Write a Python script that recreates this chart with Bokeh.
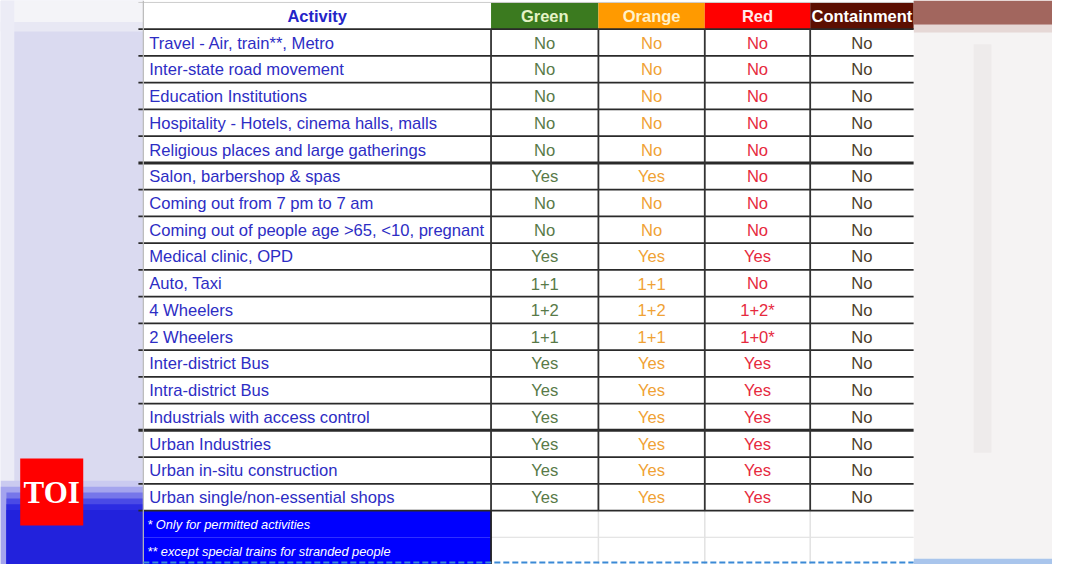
from bokeh.plotting import figure
from bokeh.models import Range1d
from bokeh.core.properties import value
from bokeh.embed import file_html
from bokeh.resources import INLINE

# ---------------- data ----------------
activities = [
    "Travel - Air, train**, Metro",
    "Inter-state road movement",
    "Education Institutions",
    "Hospitality - Hotels, cinema halls, malls",
    "Religious places and large gatherings",
    "Salon, barbershop & spas",
    "Coming out from 7 pm to 7 am",
    "Coming out of people age >65, <10, pregnant",
    "Medical clinic, OPD",
    "Auto, Taxi",
    "4 Wheelers",
    "2 Wheelers",
    "Inter-district Bus",
    "Intra-district Bus",
    "Industrials with access control",
    "Urban Industries",
    "Urban in-situ construction",
    "Urban single/non-essential shops",
]
zones = ["Green", "Orange", "Red", "Containment"]
green = ["No", "No", "No", "No", "No", "Yes", "No", "No", "Yes", "1+1", "1+2", "1+1",
         "Yes", "Yes", "Yes", "Yes", "Yes", "Yes"]
orange = ["No", "No", "No", "No", "No", "Yes", "No", "No", "Yes", "1+1", "1+2", "1+1",
          "Yes", "Yes", "Yes", "Yes", "Yes", "Yes"]
red = ["No", "No", "No", "No", "No", "No", "No", "No", "Yes", "No", "1+2*", "1+0*",
       "Yes", "Yes", "Yes", "Yes", "Yes", "Yes"]
containment = ["No", "No", "No", "No", "No", "No", "No", "No", "No", "No", "No", "No",
               "No", "No", "No", "No", "No", "No"]
footnotes = ["* Only for permitted activities", "** except special trains for stranded people"]
group_breaks = [5, 15]  # thick line after these rows

# ---------------- layout / style ----------------
col_edges = [145, 498, 607, 715, 822, 927]
header_top, header_bottom, row_h = 2, 29.5, 27.5
header_bg = ["#3b7a1f", "#ff9a00", "#ff0000", "#5c0f02"]
header_fg = ["#e6f3c6", "#fff1c8", "#ffeaea", "#ffffff"]
value_fg = ["#587a48", "#f0a235", "#e62a3e", "#4a3d2a"]
act_color = "#2d2dc4"
FONT = value("Liberation Sans")

W, H = 1052, 564
p = figure(width=W, height=H, output_backend="svg", toolbar_location=None,
           x_range=Range1d(0, 1068), y_range=Range1d(580, 0),
           min_border=0, background_fill_color="#ffffff", border_fill_color="#ffffff",
           outline_line_color=None)
p.axis.visible = False
p.grid.visible = False

# ---------------- blurred background ----------------
# left side
p.quad(left=[0], right=[145], top=[0], bottom=[580], fill_color="#dadaf0", line_color=None)
p.quad(left=[0], right=[145], top=[0], bottom=[22], fill_color="#f4f4f8", line_color=None)
p.quad(left=[0], right=[145], top=[22], bottom=[32], fill_color="#e8e8f4", line_color=None)
p.quad(left=[0], right=[14], top=[0], bottom=[580], fill_color="#ececf6", line_color=None)
blues = ["#cacaf0", "#a4a4ee", "#7676ea", "#4a4ae6", "#2c2ce2", "#2222dc"]
for i, c in enumerate(blues):
    p.quad(left=[6 if i > 1 else 0], right=[145], top=[494 + i * 6], bottom=[580],
           fill_color=c, line_color=None)
# right side
p.quad(left=[927], right=[1068], top=[0], bottom=[580], fill_color="#f5f3f3", line_color=None)
p.quad(left=[927], right=[1068], top=[0], bottom=[25], fill_color="#a2665e", line_color=None)
p.quad(left=[927], right=[1068], top=[25], bottom=[33], fill_color="#e6d8d6", line_color=None)
p.quad(left=[988], right=[1006], top=[45], bottom=[465], fill_color="#eeebeb", line_color=None)
p.quad(left=[927], right=[1068], top=[574], bottom=[580], fill_color="#a9c5ec", line_color=None)

# TOI logo
p.quad(left=[20], right=[84], top=[471], bottom=[540], fill_color="#ff0000", line_color=None)
p.text(x=[52], y=[506], text=["TOI"], text_color="#ffffff", text_font=value("Liberation Serif"),
       text_font_style="bold", text_font_size="31px", text_align="center", text_baseline="middle")

# ---------------- table ----------------
n = len(activities)
table_bottom = header_bottom + n * row_h
p.quad(left=[col_edges[0]], right=[col_edges[-1]], top=[header_top], bottom=[580],
       fill_color="#ffffff", line_color=None)

# header cells
p.quad(left=col_edges[1:-1], right=col_edges[2:], top=[header_top] * 4, bottom=[header_bottom] * 4,
       fill_color=header_bg, line_color=None)
p.text(x=[(col_edges[0] + col_edges[1]) / 2], y=[(header_top + header_bottom) / 2 + 0.5],
       text=["Activity"], text_color="#2424c8", text_font=FONT, text_font_style="bold",
       text_font_size="16.5px", text_align="center", text_baseline="middle")
p.text(x=[(col_edges[i + 1] + col_edges[i + 2]) / 2 for i in range(4)],
       y=[(header_top + header_bottom) / 2 + 0.5] * 4, text=zones, text_color=header_fg,
       text_font=FONT, text_font_style="bold", text_font_size="16.5px",
       text_align="center", text_baseline="middle")

# footnote cells
foot_tops = [table_bottom + i * row_h for i in range(len(footnotes))]
p.quad(left=[col_edges[0]] * 2, right=[col_edges[1]] * 2, top=foot_tops,
       bottom=[t + row_h for t in foot_tops], fill_color="#0000ff", line_color=None)
p.text(x=[149] * 2, y=[t + row_h / 2 + 1 for t in foot_tops], text=footnotes,
       text_color="#ffffff", text_font=FONT, text_font_style="italic", text_font_size="12.8px",
       text_align="left", text_baseline="middle")
# faint grid in footnote area
p.segment(x0=[col_edges[1]], x1=[col_edges[-1]], y0=[foot_tops[0] + row_h],
          y1=[foot_tops[0] + row_h], line_color="#dddddd", line_width=1)
p.segment(x0=col_edges[2:-1], x1=col_edges[2:-1], y0=[table_bottom] * 3, y1=[580] * 3,
          line_color="#e2e2e2", line_width=1.5)

# body text
ys = [header_bottom + (i + 0.5) * row_h + 0.5 for i in range(n)]
p.text(x=[151] * n, y=ys, text=activities, text_color=act_color, text_font=FONT,
       text_font_size="16.6px", text_align="left", text_baseline="middle")
for j, col in enumerate([green, orange, red, containment]):
    cx = (col_edges[j + 1] + col_edges[j + 2]) / 2
    p.text(x=[cx] * n, y=ys, text=col, text_color=value_fg[j], text_font=FONT,
           text_font_size="16.6px", text_align="center", text_baseline="middle")

# horizontal rules
hy = [header_bottom + i * row_h for i in range(n + 1)]
hw = [3 if (i in group_breaks) else 1.8 for i in range(n + 1)]
p.segment(x0=[140] * (n + 1), x1=[col_edges[-1]] * (n + 1), y0=hy, y1=hy,
          line_color="#2a2a2a", line_width=hw)
p.segment(x0=[140], x1=[col_edges[-1]], y0=[header_top], y1=[header_top],
          line_color="#cccccc", line_width=1)
# vertical rules
p.segment(x0=[col_edges[0]], x1=[col_edges[0]], y0=[0], y1=[580], line_color="#b8b8b8", line_width=1.2)
p.segment(x0=col_edges[1:-1], x1=col_edges[1:-1], y0=[header_bottom] * 4, y1=[table_bottom] * 4,
          line_color="#333333", line_width=1.8)
p.segment(x0=[col_edges[1]], x1=[col_edges[1]], y0=[table_bottom], y1=[580],
          line_color="#222222", line_width=1.8)
# bottom dashed line
p.segment(x0=[col_edges[0]], x1=[col_edges[-1]], y0=[578], y1=[578], line_color="#3b8ad6",
          line_width=2, line_dash="6 3")

open("out.html", "w").write(file_html(p, INLINE))
